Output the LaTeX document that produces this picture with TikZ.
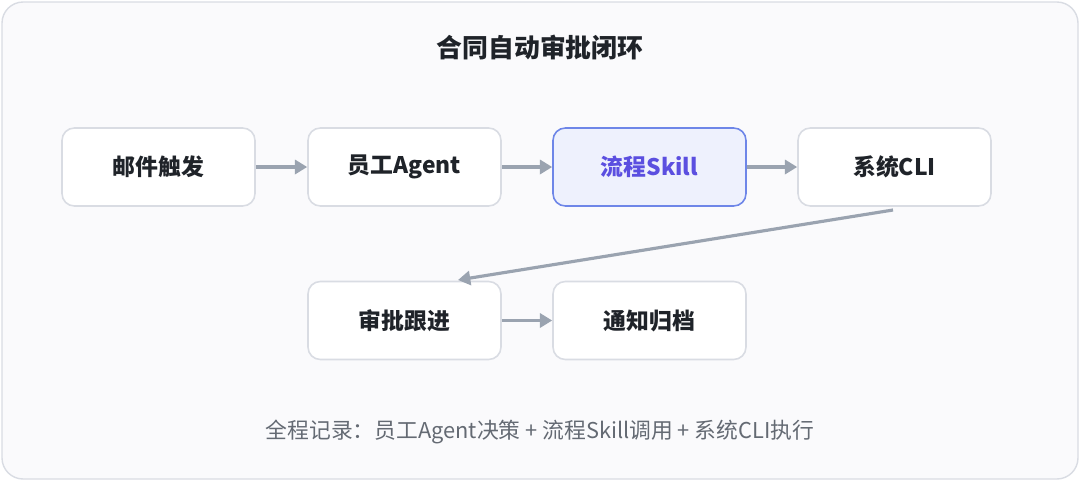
\documentclass[tikz,border=0pt]{standalone}
\usepackage{fontspec}
\setmainfont{Noto Sans CJK SC}
\usetikzlibrary{arrows.meta}
\definecolor{bordergray}{HTML}{D9DCE3}
\definecolor{bgpage}{HTML}{FAFAFC}
\definecolor{arrowgray}{HTML}{9AA3B0}
\definecolor{accent}{HTML}{5B4FE0}
\definecolor{accentfill}{HTML}{EEF1FD}
\definecolor{accentline}{HTML}{6E86E8}
\definecolor{textdark}{HTML}{1F2329}
\definecolor{textgray}{HTML}{646A73}
\begin{document}
\begin{tikzpicture}[x=0.02cm,y=-0.02cm,
  stage/.style={draw=bordergray,line width=0.9pt,fill=white,rounded corners=7pt,
    minimum width=3.86cm,minimum height=1.56cm,font=\fontsize{13}{15}\selectfont\bfseries,text=textdark},
  active/.style={stage,draw=accentline,fill=accentfill,text=accent},
  flow/.style={draw=arrowgray,line width=1.8pt,-{Triangle[length=7pt,width=8pt]}}]
\useasboundingbox (0,0) rectangle (1080,481);
\draw[draw=bordergray,fill=bgpage,rounded corners=12pt,line width=0.8pt] (2,2) rectangle (1078,479);
\node[font=\fontsize{14.7}{17}\selectfont\bfseries,text=textdark] (title) at (540,47) {合同自动审批闭环};
% first row
\node[stage] (mail) at (158.5,167) {邮件触发};
\node[stage] (agent) at (404.5,167) {员工Agent};
\node[active] (skill) at (649.5,167) {流程Skill};
\node[stage] (cli) at (894.5,167) {系统CLI};
% second row
\node[stage] (follow) at (404.5,320.5) {审批跟进};
\node[stage] (archive) at (649.5,320.5) {通知归档};
\coordinate (turn) at (893,210);
\coordinate (back) at (458,280);
\draw[flow] (mail) -- (agent);
\draw[flow] (agent) -- (skill);
\draw[flow] (skill) -- (cli);
\draw[flow] (turn) -- (back);
\draw[flow] (follow) -- (archive);
\node[font=\fontsize{12.4}{14}\selectfont,text=textgray] (note) at (540,432)
  {全程记录：员工Agent决策 + 流程Skill调用 + 系统CLI执行};
\end{tikzpicture}
\end{document}
